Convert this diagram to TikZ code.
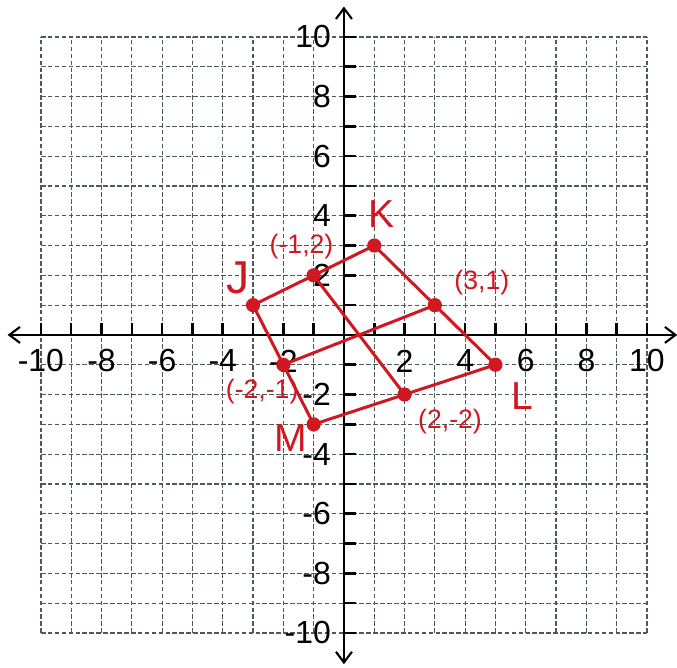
\documentclass[tikz,border=0pt]{standalone}
\usepackage{fontspec}
\setmainfont{Liberation Sans}
\usetikzlibrary{arrows.meta}
\definecolor{pen}{RGB}{208,24,34}
\definecolor{gridc}{RGB}{75,90,90}
\tikzset{
  gridline/.style={draw=gridc, line width=0.7pt, dash pattern=on 2.6pt off 1.3pt},
  axis/.style={draw=black, line width=1.6pt, {Straight Barb[length=6pt,width=9pt,line width=1.2pt]}-{Straight Barb[length=6pt,width=9pt,line width=1.2pt]}},
  tick/.style={draw=black, line width=1.4pt},
  num/.style={font=\fontsize{18}{18}\selectfont, inner sep=0pt},
  seg/.style={draw=pen, line width=1.7pt},
  dot/.style={circle, fill=pen, inner sep=0pt, minimum size=8pt},
  coordlab/.style={text=pen, font=\fontsize{15}{15}\selectfont, inner sep=0pt},
  vlab/.style={text=pen, font=\fontsize{22}{22}\selectfont, inner sep=0pt}
}
\begin{document}
\begin{tikzpicture}[x=0.6cm, y=0.59cm]
\useasboundingbox (-11.35,-11.17) rectangle (10.99,11.24);
% grid
\foreach \i in {-10,...,10} {
  \draw[gridline] (\i,-10) -- (\i,10);
  \draw[gridline] (-10,\i) -- (10,\i);
}
% axes
\coordinate (xl) at (-11.1,0);
\coordinate (xr) at (11.0,0);
\coordinate (yb) at (0,-11.05);
\coordinate (yt) at (0,11.02);
\draw[axis] (xl) -- (xr);
\draw[axis] (yb) -- (yt);
% ticks
\foreach \i in {-10,...,-1,1,2,...,10} {
  \draw[tick] (\i,0) -- (\i,0.39);
  \draw[tick] (0,\i) -- (0.39,\i);
}
% labels
\foreach \i in {-10,-8,-6,-4,-2,2,4,6,8,10} {
  \node[num] (xlab\i) at (\i,-0.87) {\i};
  \node[num, anchor=east] (ylab\i) at (-0.42,\i) {\i};
}
% figure
\node[dot] (J) at (-3,1) {};
\node[dot] (K) at (1,3) {};
\node[dot] (L) at (5,-1) {};
\node[dot] (M) at (-1,-3) {};
\node[dot] (P) at (-1,2) {};
\node[dot] (Q) at (3,1) {};
\node[dot] (R) at (2,-2) {};
\node[dot] (S) at (-2,-1) {};
\draw[seg] (J.center) -- (P.center) -- (K.center) -- (Q.center) -- (L.center) -- (R.center) -- (M.center) -- (S.center) -- cycle;
\draw[seg] (P.center) -- (R.center);
\draw[seg] (S.center) -- (Q.center);
% labels
\node[vlab, font=\fontsize{26}{26}\selectfont] (lJ) at (-3.5,1.9) {J};
\node[vlab] (lK) at (1.25,4.05) {K};
\node[vlab] (lL) at (5.9,-2.05) {L};
\node[vlab] (lM) at (-1.75,-3.45) {M};
\node[coordlab] (cP) at (-1.4,2.98) {(-1,2)};
\node[coordlab] (cQ) at (4.55,1.75) {(3,1)};
\node[coordlab] (cR) at (3.5,-2.9) {(2,-2)};
\node[coordlab] (cS) at (-2.7,-1.9) {(-2,-1)};
\end{tikzpicture}
\end{document}
